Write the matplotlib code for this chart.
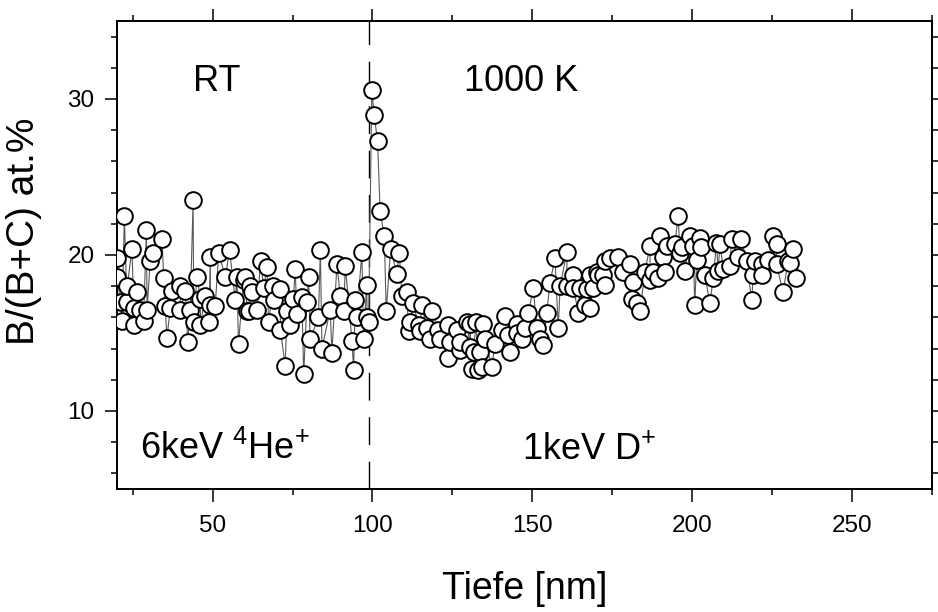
import numpy as np
import matplotlib
matplotlib.use("Agg")
import matplotlib.pyplot as plt
from matplotlib.ticker import MultipleLocator

###############################################################################
#Data
###############################################################################
#RT part, 6keV 4He+ implantation
depth_rt = [20.1, 20.1, 21.2, 21.7, 22.4, 23.2, 23.3, 24.8, 25.3, 25.3,
            26.4, 27.4, 28.4, 29.3, 29.5, 30.5, 31.4, 34.2, 34.7, 35.2,
            35.7, 36.8, 37.3, 39.9, 39.9, 41.5, 42.2, 43.0, 43.9, 44.1,
            45.1, 46.2, 46.2, 47.7, 48.8, 49.3, 49.3, 50.8, 51.9, 54.0,
            55.3, 57.1, 57.6, 58.1, 59.7, 60.2, 60.8, 61.3, 61.8, 62.3,
            63.9, 65.0, 66.0, 67.0, 67.5, 69.0, 69.1, 71.2, 71.2, 72.7,
            73.3, 74.3, 75.3, 75.8, 76.4, 77.9, 78.5, 79.5, 80.0, 80.5,
            83.1, 83.7, 84.2, 86.8, 87.3, 88.9, 89.9, 91.0, 91.5, 93.6,
            94.1, 94.6, 95.1, 96.7, 97.2, 98.2, 98.3, 98.8]
ratio_rt = [19.8, 18.6, 17.0, 15.8, 22.5, 17.0, 18.0, 20.4, 16.6, 15.5,
            17.6, 16.5, 15.8, 21.6, 16.5, 19.6, 20.1, 21.0, 18.5, 16.7,
            14.7, 16.6, 17.7, 18.0, 16.5, 17.7, 14.4, 16.5, 23.5, 15.7,
            18.6, 17.2, 15.5, 17.4, 15.7, 19.9, 16.8, 16.7, 20.1, 18.6,
            20.3, 17.1, 18.6, 14.3, 18.4, 18.6, 16.4, 16.4, 18.0, 17.6,
            16.5, 19.6, 17.9, 19.2, 15.7, 18.0, 17.1, 17.8, 15.2, 12.9,
            16.4, 15.5, 17.2, 19.1, 16.2, 17.3, 12.4, 17.0, 18.6, 14.6,
            16.0, 20.3, 14.0, 16.5, 13.7, 19.4, 17.4, 16.4, 19.3, 14.5,
            12.6, 17.1, 16.0, 20.2, 14.6, 18.1, 16.0, 15.7]

#1000 K part, 1keV D+ implantation
depth_hot = [99.8, 100.5, 101.6, 102.4, 103.7, 104.3, 105.7, 107.6, 108.4, 109.2,
             110.7, 111.3, 111.8, 112.8, 114.4, 114.9, 115.4, 117.0, 118.0, 118.6,
             120.6, 121.2, 123.6, 123.7, 124.3, 126.4, 127.4, 127.4, 129.5, 130.5,
             130.5, 131.1, 131.6, 132.4, 133.1, 133.7, 134.2, 134.7, 135.2, 137.3,
             138.3, 140.4, 141.5, 142.5, 143.0, 145.1, 145.1, 146.7, 147.7, 148.8,
             150.3, 151.4, 152.4, 153.4, 154.5, 155.5, 157.1, 158.1, 158.7, 160.8,
             160.8, 162.8, 162.8, 164.4, 164.9, 166.5, 167.0, 168.0, 168.0, 169.1,
             170.1, 170.6, 172.2, 172.7, 172.7, 174.3, 176.9, 178.5, 180.5, 181.1,
             181.6, 182.6, 183.7, 185.2, 186.8, 186.8, 187.8, 189.4, 189.9, 190.9,
             191.5, 192.0, 194.6, 195.6, 196.2, 196.7, 197.7, 199.3, 200.3, 200.8,
             201.4, 202.4, 202.9, 204.0, 205.5, 206.6, 207.6, 208.1, 208.7, 209.7,
             211.8, 212.3, 214.4, 215.4, 217.0, 218.6, 219.1, 219.6, 221.7, 221.7,
             223.8, 225.3, 226.4, 226.4, 228.4, 230.0, 230.5, 231.6, 232.6]
ratio_hot = [30.6, 29.0, 27.3, 22.8, 21.2, 16.4, 20.4, 18.8, 20.1, 17.4,
             17.6, 15.1, 15.7, 16.9, 15.5, 15.1, 16.8, 15.3, 14.6, 16.4,
             15.2, 14.6, 13.4, 15.5, 14.4, 15.2, 13.9, 14.4, 15.7, 14.1,
             15.6, 12.7, 13.8, 15.7, 12.6, 13.8, 12.8, 15.6, 14.6, 12.8,
             14.3, 15.2, 16.1, 14.9, 13.8, 15.6, 15.0, 14.6, 15.3, 16.3,
             17.9, 15.3, 14.6, 14.2, 16.3, 18.2, 19.8, 15.3, 18.0, 20.2,
             18.0, 18.7, 17.9, 16.3, 17.9, 16.8, 17.8, 18.7, 16.6, 17.9,
             18.9, 18.7, 18.7, 19.6, 18.1, 19.8, 19.9, 18.9, 19.4, 17.2,
             18.3, 16.9, 16.4, 18.9, 20.6, 18.4, 18.9, 18.5, 21.2, 19.9,
             18.9, 20.6, 20.7, 22.5, 20.1, 20.5, 19.0, 21.2, 20.6, 16.8,
             19.7, 21.1, 20.5, 18.7, 16.9, 18.5, 20.8, 19.0, 20.7, 19.1,
             19.3, 21.0, 19.9, 21.0, 19.6, 17.1, 18.7, 19.6, 19.4, 18.7,
             19.7, 21.2, 20.7, 19.4, 17.6, 19.6, 19.5, 20.4, 18.5]

boundary = 98.8

###############################################################################
#Plot
###############################################################################
plt.rcParams['font.family'] = ['Liberation Sans', 'DejaVu Sans']
plt.rcParams['mathtext.fontset'] = 'custom'
plt.rcParams['mathtext.rm'] = 'Liberation Sans'
plt.rcParams['mathtext.it'] = 'Liberation Sans:italic'

fig = plt.figure(figsize=(9.38, 6.12), dpi=100)
ax = fig.add_axes([0.1244, 0.201, 0.8692, 0.7647])

depth = depth_rt + depth_hot
ratio = ratio_rt + ratio_hot

ax.plot(depth, ratio, color="0.35", linewidth=0.8, zorder=2)
ax.plot(depth, ratio, linestyle="none", marker="o", markersize=12,
        markerfacecolor="white", markeredgecolor="black", markeredgewidth=1.4, zorder=3)

#Dashed separator
ax.axvline(boundary, color="black", linewidth=1.0, dashes=(20, 12), zorder=1)

#Limits
ax.set_xlim(20, 275)
ax.set_ylim(5, 35)

#Ticks
ax.xaxis.set_major_locator(MultipleLocator(50))
ax.xaxis.set_minor_locator(MultipleLocator(25))
ax.yaxis.set_major_locator(MultipleLocator(10))
ax.yaxis.set_minor_locator(MultipleLocator(2))
ax.tick_params(axis="x", which="both", direction="out", top=True, labelsize=17.5, pad=10)
ax.tick_params(axis="y", which="both", direction="out", labelsize=17.5, pad=7)
ax.tick_params(which="major", length=9, width=1.1)
ax.tick_params(which="minor", length=4.5, width=1.1)

#Right side ticks, all short
sec = ax.secondary_yaxis("right")
sec.set_yticks(np.arange(6, 35, 2))
sec.set_yticklabels([])
sec.tick_params(direction="out", length=4.5, width=1.1)

for s in ax.spines.values():
    s.set_linewidth(1.4)
sec.spines["right"].set_linewidth(1.4)

#Labels
ax.set_xlabel("Tiefe [nm]", fontsize=27, labelpad=24)
ax.set_ylabel("B/(B+C) at.%", fontsize=28, labelpad=18)
ax.yaxis.label.set_y(0.55)

#Annotations
ax.text(51.2, 31.1, "RT", fontsize=26, ha="center", va="center")
ax.text(146.5, 31.1, "1000 K", fontsize=26, ha="center", va="center")
ax.text(27.4, 6.9, "6keV $^{4}$He$^{+}$", fontsize=26, ha="left", va="baseline")
ax.text(146.7, 6.9, "1keV D$^{+}$", fontsize=26, ha="left", va="baseline")

fig.savefig("out.png", dpi=100)
